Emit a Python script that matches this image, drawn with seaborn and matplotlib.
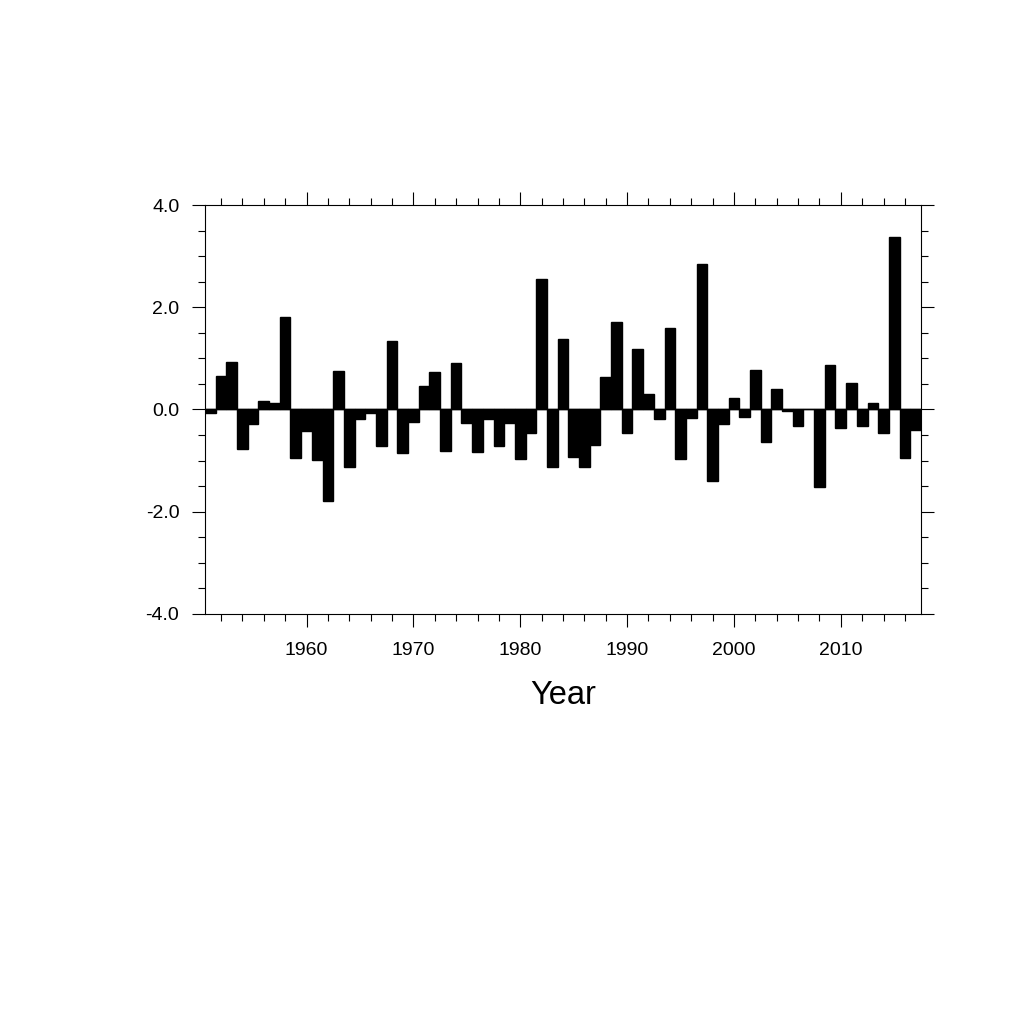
import matplotlib
matplotlib.use("Agg")
import matplotlib.pyplot as plt
from matplotlib.ticker import MultipleLocator, FormatStrFormatter
import seaborn as sns

years = list(range(1951, 2018))
values = [
    -0.07, 0.65, 0.93, -0.78, -0.29, 0.16, 0.12, 1.81, -0.94, -0.43,
    -0.99, -1.79, 0.76, -1.13, -0.19, -0.06, -0.71, 1.34, -0.86, -0.25,
    0.46, 0.74, -0.82, 0.91, -0.26, -0.84, -0.18, -0.71, -0.27, -0.96,
    -0.45, 2.55, -1.12, 1.37, -0.93, -1.12, -0.69, 0.63, 1.72, -0.46,
    1.19, 0.30, -0.18, 1.60, -0.96, -0.16, 2.85, -1.40, -0.29, 0.22,
    -0.14, 0.78, -0.63, 0.40, -0.02, -0.33, 0.00, -1.51, 0.88, -0.36,
    0.52, -0.33, 0.13, -0.46, 3.38, -0.95, -0.41,
]

sns.set_style("ticks")
plt.rcParams["font.family"] = ["Liberation Sans", "DejaVu Sans"]
plt.rcParams["axes.unicode_minus"] = False

fig = plt.figure(figsize=(10.24, 10.24), dpi=100)
ax = fig.add_axes([0.2002, 0.4004, 0.6992, 0.3994])

sns.barplot(x=years, y=values, native_scale=True, width=1.0, color="black",
            edgecolor="black", linewidth=1, saturation=1, errorbar=None, ax=ax)
ax.axhline(0, color="black", lw=1)

ax.set_xlim(1950.5, 2017.5)
ax.set_ylim(-4, 4)
ax.xaxis.set_major_locator(MultipleLocator(10))
ax.xaxis.set_minor_locator(MultipleLocator(2))
ax.yaxis.set_major_locator(MultipleLocator(2))
ax.yaxis.set_minor_locator(MultipleLocator(0.5))
ax.yaxis.set_major_formatter(FormatStrFormatter("%.1f"))
ax.tick_params(which="both", direction="out", top=True, right=True,
               labeltop=False, labelright=False, width=0.8, colors="black")
ax.tick_params(which="major", length=9.5, labelsize=14)
ax.tick_params(axis="x", which="major", pad=11)
ax.tick_params(axis="y", which="major", pad=9)
ax.tick_params(which="minor", length=5)
for s in ax.spines.values():
    s.set_visible(True)
    s.set_linewidth(0.8)
    s.set_color("black")

ax.set_xlabel("Year", fontsize=23.5, labelpad=15, color="black")
ax.set_ylabel("")

fig.savefig("out.png", dpi=100)
